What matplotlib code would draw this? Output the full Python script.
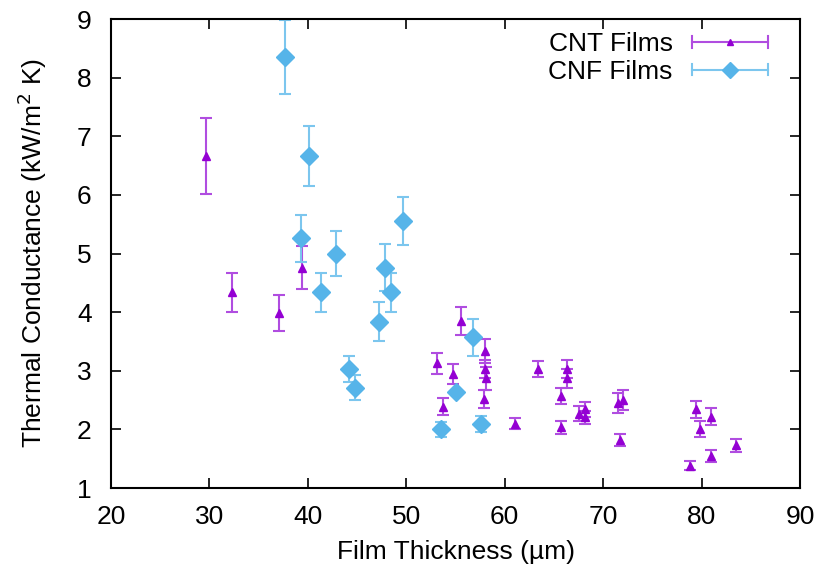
"""Thermal conductance vs film thickness for CNT and CNF films."""
import matplotlib.pyplot as plt
from matplotlib.legend_handler import HandlerBase
from matplotlib.lines import Line2D

# CNT films
cnt_x = [29.6, 32.3, 37.1, 39.4, 53.15, 53.7, 54.7, 55.55, 58.0, 58.0, 58.1, 57.9,
         61.0, 63.4, 65.7, 65.7, 66.3, 66.3, 67.55, 68.2, 68.2, 71.5, 72.0, 71.75,
         79.4, 79.8, 81.0, 81.0, 78.85, 83.45]
cnt_y = [6.66, 4.34, 3.99, 4.76, 3.13, 2.39, 2.94, 3.85, 3.34, 3.03, 2.87, 2.52,
         2.10, 3.03, 2.57, 2.04, 3.03, 2.87, 2.27, 2.34, 2.21, 2.45, 2.50, 1.82,
         2.34, 2.01, 2.22, 1.55, 1.38, 1.73]
cnt_err = [0.65, 0.33, 0.31, 0.36, 0.18, 0.14, 0.17, 0.24, 0.2, 0.15, 0.2, 0.15,
           0.1, 0.14, 0.14, 0.11, 0.16, 0.16, 0.13, 0.12, 0.11, 0.17, 0.17, 0.1,
           0.15, 0.14, 0.15, 0.1, 0.08, 0.11]

# CNF films
cnf_x = [37.7, 40.15, 39.3, 42.85, 41.3, 44.2, 44.8, 47.25, 47.8, 48.45, 49.65,
         56.8, 55.0, 53.55, 57.6]
cnf_y = [8.35, 6.66, 5.26, 5.0, 4.34, 3.03, 2.71, 3.84, 4.76, 4.34, 5.56,
         3.57, 2.63, 2.0, 2.09]
cnf_err = [0.63, 0.51, 0.4, 0.38, 0.33, 0.23, 0.21, 0.33, 0.4, 0.33, 0.41,
           0.31, 0.05, 0.13, 0.14]

CNT_COL, CNT_ERR = '#9400d3', '#b04de0'
CNF_COL, CNF_ERR = '#56b4e9', '#7cc6ee'


class HorizErrHandler(HandlerBase):
    """Gnuplot-like key sample: horizontal bar with end caps and a marker."""

    def __init__(self, marker, color, ecolor, ms):
        super().__init__()
        self.marker, self.color, self.ecolor, self.ms = marker, color, ecolor, ms

    def create_artists(self, legend, orig_handle, xdescent, ydescent, width,
                       height, fontsize, trans):
        y = height / 2 - ydescent
        x0, x1 = -xdescent, width - xdescent
        cap = 4
        arts = [
            Line2D([x0, x1], [y, y], color=self.ecolor, lw=1.5),
            Line2D([x0, x0], [y - cap, y + cap], color=self.ecolor, lw=1.5),
            Line2D([x1, x1], [y - cap, y + cap], color=self.ecolor, lw=1.5),
            Line2D([(x0 + x1) / 2], [y], marker=self.marker, color=self.color,
                   ms=self.ms, ls='none'),
        ]
        for a in arts:
            a.set_transform(trans)
        return arts


plt.rcParams['font.family'] = ['Liberation Sans', 'DejaVu Sans']
plt.rcParams['font.size'] = 19

fig = plt.figure(figsize=(8.2, 5.73), dpi=100)
ax = fig.add_axes([0.1354, 0.1483, 0.8402, 0.8185])

h1 = ax.errorbar(cnt_x, cnt_y, yerr=cnt_err, fmt='^', color=CNT_COL, ms=5.5,
                 ecolor=CNT_ERR, elinewidth=1.5, capsize=4, capthick=1.5)
h2 = ax.errorbar(cnf_x, cnf_y, yerr=cnf_err, fmt='D', color=CNF_COL, ms=9,
                 ecolor=CNF_ERR, elinewidth=1.5, capsize=4, capthick=1.5)

ax.set_xlim(20, 90)
ax.set_ylim(1, 9)
ax.set_xticks(range(20, 91, 10))
ax.set_yticks(range(1, 10))
ax.tick_params(direction='in', top=True, right=True, length=7, width=1.2)
ax.tick_params(axis='x', pad=12)
ax.tick_params(axis='y', pad=14)
for s in ax.spines.values():
    s.set_linewidth(1.5)

ax.set_xlabel('Film Thickness (µm)', labelpad=8)
ax.set_ylabel('Thermal Conductance (kW/m$^2$ K)', labelpad=20)

ax.legend([h1, h2], ['CNT Films', 'CNF Films'], loc='upper right',
          bbox_to_anchor=(0.972, 1.0), frameon=False, markerfirst=False,
          handlelength=2.85, handletextpad=0.75, labelspacing=0.15,
          borderaxespad=0.1,
          handler_map={h1: HorizErrHandler('^', CNT_COL, CNT_ERR, 5),
                       h2: HorizErrHandler('D', CNF_COL, CNF_ERR, 8)})

fig.savefig('out.png', dpi=100)
